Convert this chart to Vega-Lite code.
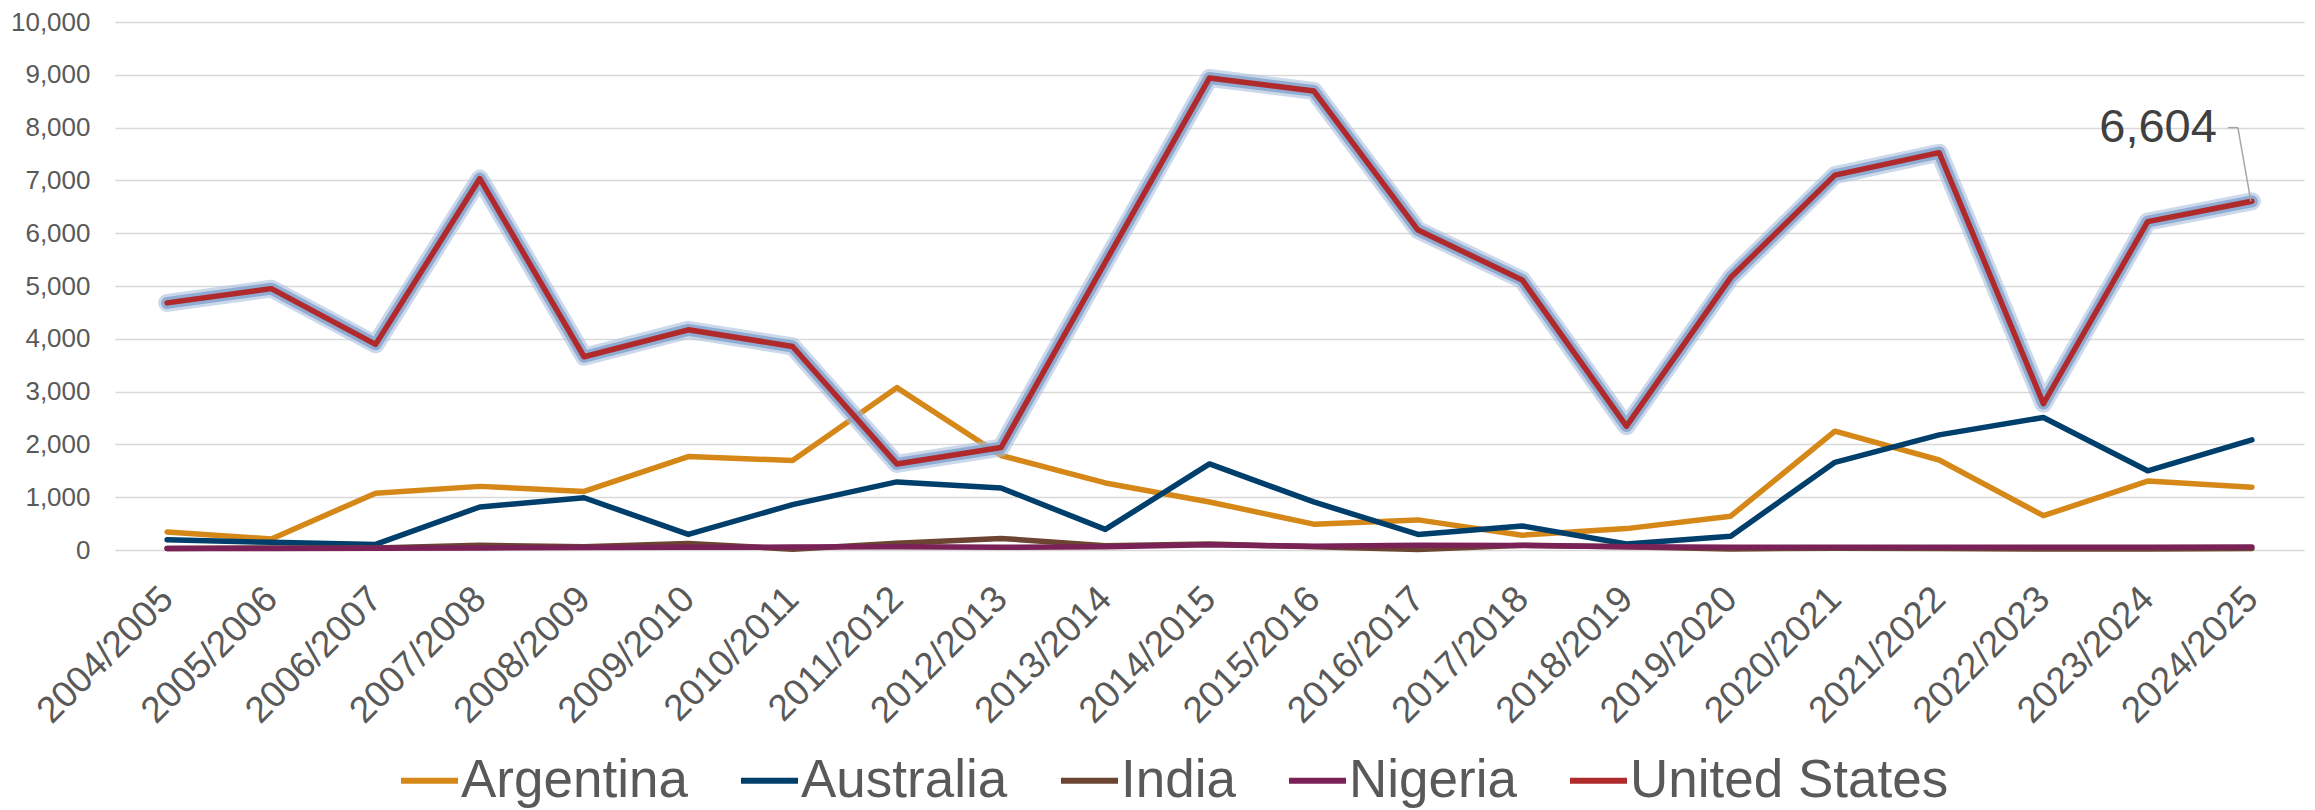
{
  "$schema": "https://vega.github.io/schema/vega-lite/v6.json",
  "width": 2189,
  "height": 528,
  "autosize": {"type": "none"},
  "padding": {"left": 115, "top": 22, "right": 11, "bottom": 260},
  "background": "white",
  "config": {
    "view": {"stroke": null},
    "font": "Liberation Sans"
  },
  "datasets": {
    "main": [
      {"season": "2004/2005", "country": "Argentina", "value": 340},
      {"season": "2005/2006", "country": "Argentina", "value": 210},
      {"season": "2006/2007", "country": "Argentina", "value": 1075},
      {"season": "2007/2008", "country": "Argentina", "value": 1205},
      {"season": "2008/2009", "country": "Argentina", "value": 1110},
      {"season": "2009/2010", "country": "Argentina", "value": 1770},
      {"season": "2010/2011", "country": "Argentina", "value": 1695},
      {"season": "2011/2012", "country": "Argentina", "value": 3075},
      {"season": "2012/2013", "country": "Argentina", "value": 1790},
      {"season": "2013/2014", "country": "Argentina", "value": 1270},
      {"season": "2014/2015", "country": "Argentina", "value": 910},
      {"season": "2015/2016", "country": "Argentina", "value": 490},
      {"season": "2016/2017", "country": "Argentina", "value": 570},
      {"season": "2017/2018", "country": "Argentina", "value": 280},
      {"season": "2018/2019", "country": "Argentina", "value": 405},
      {"season": "2019/2020", "country": "Argentina", "value": 640},
      {"season": "2020/2021", "country": "Argentina", "value": 2250},
      {"season": "2021/2022", "country": "Argentina", "value": 1705},
      {"season": "2022/2023", "country": "Argentina", "value": 650},
      {"season": "2023/2024", "country": "Argentina", "value": 1305},
      {"season": "2024/2025", "country": "Argentina", "value": 1190},
      {"season": "2004/2005", "country": "Australia", "value": 195},
      {"season": "2005/2006", "country": "Australia", "value": 145},
      {"season": "2006/2007", "country": "Australia", "value": 105},
      {"season": "2007/2008", "country": "Australia", "value": 815},
      {"season": "2008/2009", "country": "Australia", "value": 990},
      {"season": "2009/2010", "country": "Australia", "value": 295},
      {"season": "2010/2011", "country": "Australia", "value": 860},
      {"season": "2011/2012", "country": "Australia", "value": 1290},
      {"season": "2012/2013", "country": "Australia", "value": 1175},
      {"season": "2013/2014", "country": "Australia", "value": 390},
      {"season": "2014/2015", "country": "Australia", "value": 1630},
      {"season": "2015/2016", "country": "Australia", "value": 910},
      {"season": "2016/2017", "country": "Australia", "value": 295},
      {"season": "2017/2018", "country": "Australia", "value": 455},
      {"season": "2018/2019", "country": "Australia", "value": 115},
      {"season": "2019/2020", "country": "Australia", "value": 260},
      {"season": "2020/2021", "country": "Australia", "value": 1660},
      {"season": "2021/2022", "country": "Australia", "value": 2180},
      {"season": "2022/2023", "country": "Australia", "value": 2510},
      {"season": "2023/2024", "country": "Australia", "value": 1500},
      {"season": "2024/2025", "country": "Australia", "value": 2085},
      {"season": "2004/2005", "country": "India", "value": 30},
      {"season": "2005/2006", "country": "India", "value": 40},
      {"season": "2006/2007", "country": "India", "value": 40},
      {"season": "2007/2008", "country": "India", "value": 90},
      {"season": "2008/2009", "country": "India", "value": 60},
      {"season": "2009/2010", "country": "India", "value": 125},
      {"season": "2010/2011", "country": "India", "value": 15},
      {"season": "2011/2012", "country": "India", "value": 130},
      {"season": "2012/2013", "country": "India", "value": 220},
      {"season": "2013/2014", "country": "India", "value": 80},
      {"season": "2014/2015", "country": "India", "value": 115},
      {"season": "2015/2016", "country": "India", "value": 60},
      {"season": "2016/2017", "country": "India", "value": 10},
      {"season": "2017/2018", "country": "India", "value": 90},
      {"season": "2018/2019", "country": "India", "value": 60},
      {"season": "2019/2020", "country": "India", "value": 20},
      {"season": "2020/2021", "country": "India", "value": 35},
      {"season": "2021/2022", "country": "India", "value": 30},
      {"season": "2022/2023", "country": "India", "value": 20},
      {"season": "2023/2024", "country": "India", "value": 20},
      {"season": "2024/2025", "country": "India", "value": 30},
      {"season": "2004/2005", "country": "Nigeria", "value": 30},
      {"season": "2005/2006", "country": "Nigeria", "value": 30},
      {"season": "2006/2007", "country": "Nigeria", "value": 35},
      {"season": "2007/2008", "country": "Nigeria", "value": 40},
      {"season": "2008/2009", "country": "Nigeria", "value": 45},
      {"season": "2009/2010", "country": "Nigeria", "value": 50},
      {"season": "2010/2011", "country": "Nigeria", "value": 55},
      {"season": "2011/2012", "country": "Nigeria", "value": 60},
      {"season": "2012/2013", "country": "Nigeria", "value": 50},
      {"season": "2013/2014", "country": "Nigeria", "value": 60},
      {"season": "2014/2015", "country": "Nigeria", "value": 100},
      {"season": "2015/2016", "country": "Nigeria", "value": 70},
      {"season": "2016/2017", "country": "Nigeria", "value": 90},
      {"season": "2017/2018", "country": "Nigeria", "value": 85},
      {"season": "2018/2019", "country": "Nigeria", "value": 60},
      {"season": "2019/2020", "country": "Nigeria", "value": 50},
      {"season": "2020/2021", "country": "Nigeria", "value": 50},
      {"season": "2021/2022", "country": "Nigeria", "value": 50},
      {"season": "2022/2023", "country": "Nigeria", "value": 50},
      {"season": "2023/2024", "country": "Nigeria", "value": 50},
      {"season": "2024/2025", "country": "Nigeria", "value": 55},
      {"season": "2004/2005", "country": "United States", "value": 4680},
      {"season": "2005/2006", "country": "United States", "value": 4950},
      {"season": "2006/2007", "country": "United States", "value": 3895},
      {"season": "2007/2008", "country": "United States", "value": 7035},
      {"season": "2008/2009", "country": "United States", "value": 3660},
      {"season": "2009/2010", "country": "United States", "value": 4170},
      {"season": "2010/2011", "country": "United States", "value": 3855},
      {"season": "2011/2012", "country": "United States", "value": 1630},
      {"season": "2012/2013", "country": "United States", "value": 1940},
      {"season": "2013/2014", "country": "United States", "value": 5450},
      {"season": "2014/2015", "country": "United States", "value": 8940},
      {"season": "2015/2016", "country": "United States", "value": 8695},
      {"season": "2016/2017", "country": "United States", "value": 6060},
      {"season": "2017/2018", "country": "United States", "value": 5115},
      {"season": "2018/2019", "country": "United States", "value": 2345},
      {"season": "2019/2020", "country": "United States", "value": 5160},
      {"season": "2020/2021", "country": "United States", "value": 7100},
      {"season": "2021/2022", "country": "United States", "value": 7525},
      {"season": "2022/2023", "country": "United States", "value": 2770},
      {"season": "2023/2024", "country": "United States", "value": 6220},
      {"season": "2024/2025", "country": "United States", "value": 6604}
    ],
    "note": [
      {"season": "2024/2025", "value": 6604, "labelY": 8000, "label": "6,604"}
    ]
  },
  "encoding": {
    "x": {
      "field": "season",
      "type": "ordinal",
      "scale": {"type": "point", "padding": 0.5},
      "axis": {
        "title": null,
        "labelAngle": -45,
        "labelFontSize": 37,
        "labelColor": "#595959",
        "labelPadding": 43,
        "labelBaseline": "middle",
        "labelAlign": "right",
        "domain": false,
        "ticks": false,
        "grid": false
      }
    },
    "y": {
      "field": "value",
      "type": "quantitative",
      "scale": {"domain": [0, 10000], "nice": false},
      "axis": {
        "title": null,
        "values": [0, 1000, 2000, 3000, 4000, 5000, 6000, 7000, 8000, 9000, 10000],
        "format": ",d",
        "labelFontSize": 26,
        "labelColor": "#595959",
        "labelPadding": 25,
        "domain": false,
        "ticks": false,
        "grid": true,
        "gridColor": "#D9D9D9",
        "gridWidth": 1.5
      }
    }
  },
  "layer": [
    {
      "data": {"name": "main"},
      "mark": {"type": "line", "strokeWidth": 5.5, "strokeCap": "round", "strokeJoin": "round"},
      "encoding": {
        "color": {
          "field": "country",
          "type": "nominal",
          "scale": {
            "domain": ["Argentina", "Australia", "India", "Nigeria", "United States"],
            "range": ["#D58717", "#003F6B", "#6B4432", "#7A2157", "#B02A2B"]
          },
          "legend": {
            "title": null,
            "orient": "none",
            "legendX": 283,
            "legendY": 727,
            "direction": "horizontal",
            "symbolType": "stroke",
            "symbolSize": 3249,
            "symbolStrokeWidth": 6,
            "labelFontSize": 53,
            "labelColor": "#595959",
            "labelOffset": 0,
            "labelLimit": 0,
            "columnPadding": 41,
            "padding": 0
          }
        }
      }
    },
    {
      "data": {"name": "main"},
      "transform": [{"filter": "datum.country === 'United States'"}],
      "mark": {"type": "line", "strokeWidth": 18, "color": "#A9C0DE", "opacity": 0.6, "strokeCap": "round", "strokeJoin": "round"}
    },
    {
      "data": {"name": "main"},
      "transform": [{"filter": "datum.country === 'United States'"}],
      "mark": {"type": "line", "strokeWidth": 12, "color": "#86A3CE", "opacity": 0.85, "strokeCap": "round", "strokeJoin": "round"}
    },
    {
      "data": {"name": "main"},
      "transform": [{"filter": "datum.country === 'United States'"}],
      "mark": {"type": "line", "strokeWidth": 5.5, "strokeCap": "round", "strokeJoin": "round"},
      "encoding": {
        "color": {"field": "country", "type": "nominal"}
      }
    },
    {
      "data": {"name": "note"},
      "mark": {"type": "rule", "color": "#A6A6A6", "strokeWidth": 1.5, "xOffset": -24, "x2Offset": -14},
      "encoding": {
        "x2": {"field": "season"},
        "y": {"field": "labelY", "type": "quantitative"}
      }
    },
    {
      "data": {"name": "note"},
      "mark": {"type": "rule", "color": "#A6A6A6", "strokeWidth": 1.5, "xOffset": -14, "x2Offset": -1},
      "encoding": {
        "x2": {"field": "season"},
        "y": {"field": "labelY", "type": "quantitative"},
        "y2": {"field": "value"}
      }
    },
    {
      "data": {"name": "note"},
      "mark": {"type": "text", "align": "right", "baseline": "middle", "dx": -35, "fontSize": 47, "color": "#404040"},
      "encoding": {
        "y": {"field": "labelY", "type": "quantitative"},
        "text": {"field": "label"}
      }
    }
  ]
}
